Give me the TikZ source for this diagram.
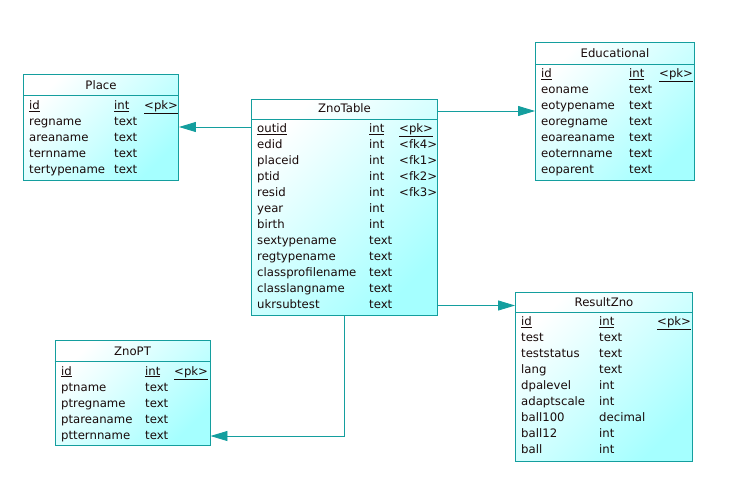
\documentclass[tikz,border=0pt]{standalone}
\usepackage{fontspec}
\setmainfont{DejaVu Sans}
\usetikzlibrary{arrows.meta}
\definecolor{edge}{RGB}{20,158,158}
\definecolor{fillc}{RGB}{165,255,255}
\definecolor{ink}{RGB}{25,10,10}
\tikzset{
  tbl/.style={draw=edge, line width=0.9pt, rectangle, inner sep=0pt,
    top color=white, bottom color=fillc, shading angle=45},
  sep/.style={draw=edge, line width=0.9pt},
  ttl/.style={inner sep=0pt, text=ink, font=\fontsize{11.7}{13}\selectfont},
  cell/.style={anchor=west, inner sep=0pt, text height=8.6pt, text depth=2.4pt,
    text=ink, font=\fontsize{11.7}{13}\selectfont},
  link/.style={draw=edge, line width=0.9pt,
    -{Triangle[length=17pt,width=10pt]}}
}
\newcommand\ul[1]{\underline{#1}}
\begin{document}
\begin{tikzpicture}[x=1pt,y=-1pt]
\path[use as bounding box] (0,0) rectangle (736,499);

% ---- Place ----
\node[tbl, minimum width=155pt, minimum height=106pt] (place) at (101,127) {};
\draw[sep] (place.west |- 0,95.5) -- (place.east |- 0,95.5);
\node[ttl] (placeT) at (place.north |- 0,85.5) {Place};
\foreach \nm/\ty/\ky [count=\i from 0] in
  {{\ul{id}}/{\ul{int}}/{\ul{<pk>}}, regname/text/, areaname/text/,
   ternname/text/, tertypename/text/}{
  \node[cell] (place-n\i) at (29,106.5+16*\i) {\nm};
  \node[cell] (place-t\i) at (114,106.5+16*\i) {\ty};
  \node[cell] (place-k\i) at (144,106.5+16*\i) {\ky};
}

% ---- ZnoTable ----
\node[tbl, minimum width=186pt, minimum height=216pt] (zt) at (344.5,207) {};
\draw[sep] (zt.west |- 0,119) -- (zt.east |- 0,119);
\node[ttl] (ztT) at (zt.north |- 0,108.5) {ZnoTable};
\foreach \nm/\ty/\ky [count=\i from 0] in
  {{\ul{outid}}/{\ul{int}}/{\ul{<pk>}}, edid/int/<fk4>, placeid/int/<fk1>,
   ptid/int/<fk2>, resid/int/<fk3>, year/int/, birth/int/,
   sextypename/text/, regtypename/text/, classprofilename/text/,
   classlangname/text/, ukrsubtest/text/}{
  \node[cell] (zt-n\i) at (257,129.5+16*\i) {\nm};
  \node[cell] (zt-t\i) at (369,129.5+16*\i) {\ty};
  \node[cell] (zt-k\i) at (399,129.5+16*\i) {\ky};
}

% ---- Educational ----
\node[tbl, minimum width=159pt, minimum height=138pt] (edu) at (615,111) {};
\draw[sep] (edu.west |- 0,64) -- (edu.east |- 0,64);
\node[ttl] (eduT) at (edu.north |- 0,53.5) {Educational};
\foreach \nm/\ty/\ky [count=\i from 0] in
  {{\ul{id}}/{\ul{int}}/{\ul{<pk>}}, eoname/text/, eotypename/text/,
   eoregname/text/, eoareaname/text/, eoternname/text/, eoparent/text/}{
  \node[cell] (edu-n\i) at (541,74.5+16*\i) {\nm};
  \node[cell] (edu-t\i) at (629,74.5+16*\i) {\ty};
  \node[cell] (edu-k\i) at (659,74.5+16*\i) {\ky};
}

% ---- ResultZno ----
\node[tbl, minimum width=177pt, minimum height=169pt] (res) at (604,376.5) {};
\draw[sep] (res.west |- 0,312.5) -- (res.east |- 0,312.5);
\node[ttl] (resT) at (res.north |- 0,302.5) {ResultZno};
\foreach \nm/\ty/\ky [count=\i from 0] in
  {{\ul{id}}/{\ul{int}}/{\ul{<pk>}}, test/text/, teststatus/text/,
   lang/text/, dpalevel/int/, adaptscale/int/, ball100/decimal/,
   ball12/int/, ball/int/}{
  \node[cell] (res-n\i) at (521,322.5+16*\i) {\nm};
  \node[cell] (res-t\i) at (599,322.5+16*\i) {\ty};
  \node[cell] (res-k\i) at (657,322.5+16*\i) {\ky};
}

% ---- ZnoPT ----
\node[tbl, minimum width=155pt, minimum height=105pt] (pt) at (132.5,392.5) {};
\draw[sep] (pt.west |- 0,361.5) -- (pt.east |- 0,361.5);
\node[ttl] (ptT) at (pt.north |- 0,351.5) {ZnoPT};
\foreach \nm/\ty/\ky [count=\i from 0] in
  {{\ul{id}}/{\ul{int}}/{\ul{<pk>}}, ptname/text/, ptregname/text/,
   ptareaname/text/, ptternname/text/}{
  \node[cell] (pt-n\i) at (61,372+16*\i) {\nm};
  \node[cell] (pt-t\i) at (145,372+16*\i) {\ty};
  \node[cell] (pt-k\i) at (174,372+16*\i) {\ky};
}

% ---- references ----
\draw[link] (zt.west |- place.east) -- (place.east);
\draw[link] (zt.east |- edu.west) -- (edu.west);
\draw[link] (zt.east |- zt-n11) -- (res.west |- zt-n11);
\draw[link] (zt.south) |- (pt.east |- pt-n4);
\end{tikzpicture}
\end{document}
